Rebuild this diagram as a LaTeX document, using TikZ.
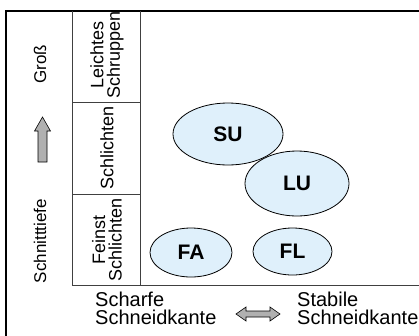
\documentclass[tikz,border=0pt]{standalone}
\usepackage{fontspec}
\setmainfont{Liberation Sans}
\usetikzlibrary{shapes.geometric}
\definecolor{ovalfill}{HTML}{DFF0FB}
\definecolor{arrowgray}{HTML}{B0B0B0}
\begin{document}
\begin{tikzpicture}[x=1pt,y=-1pt,
  rlbl/.style={font=\fontsize{17}{15}\selectfont, inner sep=0pt, align=center, rotate=90},
  clbl/.style={font=\fontsize{18}{16.5}\selectfont, inner sep=0pt, align=center, rotate=90},
  blbl/.style={font=\fontsize{20}{18}\selectfont, inner sep=0pt, align=left, anchor=north west},
  oval/.style={ellipse, draw=black, line width=0.8pt, fill=ovalfill,
    font=\fontsize{21}{21}\selectfont\bfseries, inner sep=0pt},
  frameline/.style={draw=black, line width=1.1pt},
  gridline/.style={draw=black!75, line width=0.9pt},
  fatarrow/.style={draw=black, line width=0.6pt, fill=arrowgray, line join=miter}]
\useasboundingbox (0,0) rectangle (419,335);
\clip (0,0) rectangle (419,335);
% frames
\draw[frameline] (6,345) -- (6,11) -- (430,11);
\draw[gridline] (72,11) -- (72,285) -- (430,285);
\draw[gridline] (140,11) -- (140,285);
\draw[gridline] (72,102) -- (140,102);
\draw[gridline] (72,194) -- (140,194);
% left labels
\node[rlbl] (gross) at (40,64) {Groß};
\node[rlbl] (tiefe) at (40,241) {Schnitttiefe};
\draw[fatarrow] (38,162) -- (38,131) -- (34.5,131) -- (42.5,117) -- (50.5,131) -- (47,131) -- (47,162) -- cycle;
% column labels
\node[clbl] (schruppen) at (107,55) {Leichtes\\Schruppen};
\node[clbl] (schlichten) at (107,148) {Schlichten};
\node[clbl] (feinst) at (107,239.5) {Feinst\\Schlichten};
% ovals
\node[oval, minimum width=110pt, minimum height=62pt] (SU) at (228,134) {SU};
\node[oval, minimum width=104pt, minimum height=65pt] (LU) at (297,183.5) {LU};
\node[oval, minimum width=82pt, minimum height=49pt] (FA) at (191,252.5) {FA};
\node[oval, minimum width=79pt, minimum height=47pt] (FL) at (292.5,251.5) {FL};
% bottom labels
\node[blbl] (scharf) at (95,292) {Scharfe\\Schneidkante};
\node[blbl] (stabil) at (297,292) {Stabile\\Schneidkante};
\draw[fatarrow] (236,314) -- (246,307) -- (246,311) -- (270,311) -- (270,307) -- (280,314)
  -- (270,321) -- (270,317) -- (246,317) -- (246,321) -- cycle;
\end{tikzpicture}
\end{document}
